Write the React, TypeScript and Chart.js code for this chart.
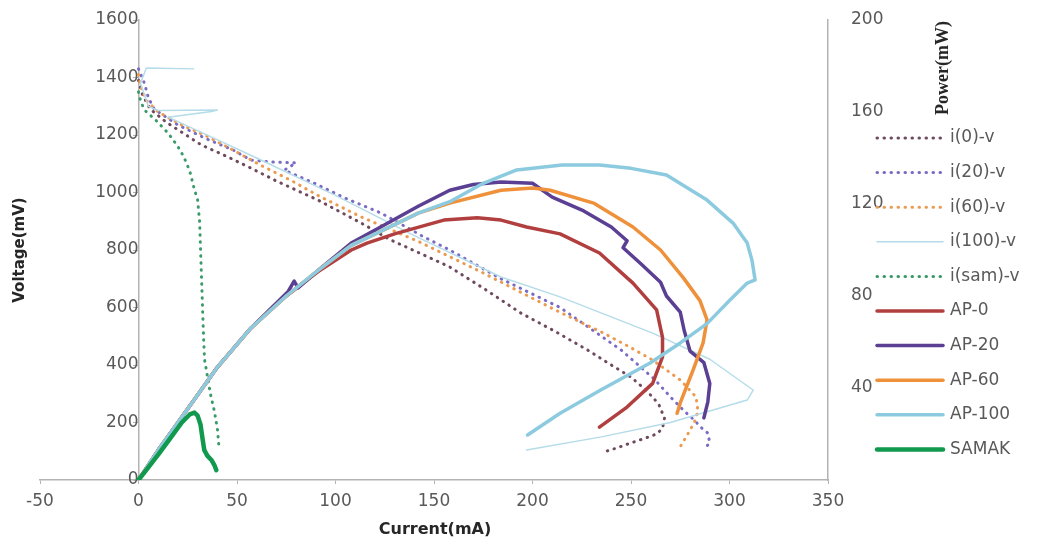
import React, { useEffect, useRef } from "react";
import { Chart, registerables } from "chart.js";

Chart.register(...registerables);

// ---------- axis ranges ----------
const currentMin = -50;
const currentMax = 350;
const currentStep = 50;
const voltageMin = 0;
const voltageMax = 1600;
const voltageStep = 200;
const powerMin = 0;
const powerMax = 200;
const powerStep = 40;

// ---------- i-V curves (current mA, voltage mV) ----------
const i0Current = [0, 2, 6, 14, 23, 32, 45, 57, 70, 91, 113, 128, 145, 158, 176, 194, 212, 228, 240, 250, 258, 264, 267, 266, 263, 257, 250, 243, 236];
const i0Voltage = [1390, 1340, 1290, 1245, 1205, 1165, 1125, 1085, 1040, 974, 894, 835, 782, 741, 663, 581, 515, 452, 400, 358, 310, 265, 215, 180, 160, 145, 129, 112, 97];

const i20Current = [0, 3, 5, 8, 20, 35, 48, 57, 67, 80, 74, 90, 105, 123, 145, 158, 184, 214, 245, 262, 270, 277, 282, 286, 289, 290, 288, 287];
const i20Voltage = [1430, 1380, 1330, 1290, 1235, 1185, 1148, 1113, 1106, 1103, 1078, 1030, 980, 929, 845, 800, 700, 600, 452, 350, 289, 240, 209, 180, 163, 129, 115, 104];

const i60Current = [0, 1, 4, 10, 22, 35, 50, 62, 78, 91, 113, 142, 175, 212, 236, 250, 261, 275, 283, 284, 282, 278, 274];
const i60Voltage = [1410, 1370, 1320, 1280, 1235, 1195, 1140, 1095, 1040, 990, 915, 830, 720, 590, 511, 460, 417, 348, 289, 240, 198, 150, 104];

const i100Current = [28, 4, 1, 5, 10, 40, 38, 15, 30, 60, 100, 140, 184, 214, 261, 290, 312, 309, 270, 235, 197];
const i100Voltage = [1430, 1433, 1380, 1300, 1285, 1287, 1283, 1262, 1215, 1120, 990, 850, 706, 637, 511, 420, 313, 278, 200, 150, 104];

const iSamCurrent = [0, 1, 3, 9, 15, 20, 23, 26, 28, 30, 31, 31.5, 32, 32.5, 33, 33.5, 35, 36.5, 38.5, 40, 41];
const iSamVoltage = [1350, 1320, 1287, 1250, 1207, 1160, 1124, 1075, 1020, 974, 900, 800, 700, 600, 500, 420, 360, 300, 240, 180, 104];

// ---------- power curves (current mA, power mW) ----------
const ap0Current = [0, 10, 25, 40, 57, 75, 91, 108, 116, 130, 155, 172, 184, 197, 214, 234, 251, 263, 266, 266, 261, 248, 234];
const ap0Power = [0, 13, 31, 49, 66, 80, 90.5, 100, 103, 107, 113, 114, 113, 110, 107, 98.7, 85.6, 74, 62, 53.5, 42, 31.7, 23];

const ap20Current = [0, 10, 25, 40, 57, 76, 79, 81, 91, 108, 125, 142, 158, 170, 184, 200, 210, 226, 240, 248, 246, 255, 265, 268, 275, 277, 280, 287, 290, 289, 287];
const ap20Power = [0, 13, 31, 49, 66, 82, 86.5, 83.5, 91, 103, 111, 119, 126, 128.5, 129.6, 129, 123, 117, 110, 104, 101, 94, 86, 80, 73, 65, 56, 51, 42, 34, 27];

const ap60Current = [0, 10, 25, 40, 57, 75, 91, 108, 125, 142, 158, 184, 200, 209, 231, 251, 265, 276.5, 285, 288.6, 286.6, 281.5, 275, 273.4];
const ap60Power = [0, 13, 31, 49, 66, 80, 91, 102, 109, 116, 120.4, 126, 127, 126, 120.4, 110, 100, 88, 78, 69.6, 59.6, 47.8, 33.5, 29];

const ap100Current = [0, 10, 25, 40, 57, 75, 91, 108, 125, 142, 158, 175, 192, 215, 234, 250, 268, 288.6, 301.8, 309, 311.4, 313, 309, 300, 288.6, 275, 259.7, 234.4, 214, 197.5];
const ap100Power = [0, 13, 31, 49, 66, 80, 91, 102, 109, 116, 121, 129, 134.8, 137, 137, 135.5, 132.6, 121.7, 111.7, 103, 95.6, 87, 85.6, 78, 68, 59.6, 50.9, 39, 29, 19.6];

const samakCurrent = [0, 5, 10, 16, 22, 26, 28.4, 30, 31.5, 32.5, 33.4, 35, 37, 38.5, 39.5];
const samakPower = [0, 5.5, 11, 18, 25, 28.5, 29.3, 28, 24, 18, 13, 10.5, 8.7, 6.5, 4.3];

const seriesLabels = ["i(0)-v", "i(20)-v", "i(60)-v", "i(100)-v", "i(sam)-v", "AP-0", "AP-20", "AP-60", "AP-100", "SAMAK"];

const pts = (xs: number[], ys: number[]) => xs.map((x, k) => ({ x, y: ys[k] }));

const TICK_COLOR = "#595959";
const AXIS_COLOR = "#b3b3b3";
const SANS = "'DejaVu Sans', 'Noto Sans', sans-serif";

function dotted(label: string, data: any[], color: string, order: number) {
  return {
    label,
    data,
    yAxisID: "y",
    borderColor: color,
    backgroundColor: color,
    borderWidth: 3,
    borderDash: [0.5, 6.5],
    borderCapStyle: "round",
    showLine: true,
    pointRadius: 0,
    pointHoverRadius: 0,
    tension: 0,
    order,
  };
}

function solid(label: string, data: any[], color: string, width: number, order: number, axis = "y1") {
  return {
    label,
    data,
    yAxisID: axis,
    borderColor: color,
    backgroundColor: color,
    borderWidth: width,
    borderCapStyle: "round",
    borderJoinStyle: "round",
    showLine: true,
    pointRadius: 0,
    pointHoverRadius: 0,
    tension: 0,
    order,
  };
}

const overlayPlugin = {
  id: "overlay",
  afterDraw(chart: any) {
    const ctx = chart.ctx as CanvasRenderingContext2D;
    const dsets = chart.data.datasets;
    ctx.save();
    // legend
    const top = 138;
    const step = 34.6;
    dsets.forEach((d: any, i: number) => {
      const y = top + i * step;
      ctx.beginPath();
      ctx.strokeStyle = d.borderColor;
      ctx.lineWidth = d.borderWidth;
      ctx.lineCap = d.borderCapStyle || "butt";
      ctx.setLineDash(d.borderDash || []);
      ctx.moveTo(877, y);
      ctx.lineTo(943, y);
      ctx.stroke();
      ctx.setLineDash([]);
      ctx.fillStyle = TICK_COLOR;
      ctx.font = `17px ${SANS}`;
      ctx.textAlign = "left";
      ctx.textBaseline = "middle";
      ctx.fillText(d.label, 950, y);
    });
    // axis titles
    ctx.fillStyle = "#262626";
    ctx.textAlign = "center";
    ctx.textBaseline = "middle";
    ctx.font = `bold 16px ${SANS}`;
    ctx.fillText("Current(mA)", 435, 530);
    ctx.save();
    ctx.translate(20, 250);
    ctx.rotate(-Math.PI / 2);
    ctx.font = `bold 15px ${SANS}`;
    ctx.fillText("Voltage(mV)", 0, 0);
    ctx.restore();
    ctx.save();
    ctx.translate(943, 68);
    ctx.rotate(-Math.PI / 2);
    ctx.font = `bold 18px 'Liberation Serif', 'DejaVu Serif', serif`;
    ctx.fillText("Power(mW)", 0, 0);
    ctx.restore();
    ctx.restore();
  },
};

export default function App() {
  const ref = useRef<HTMLCanvasElement>(null);
  useEffect(() => {
    const datasets: any[] = [
      dotted(seriesLabels[0], pts(i0Current, i0Voltage), "#6f4a5e", 9),
      dotted(seriesLabels[1], pts(i20Current, i20Voltage), "#7a6cc4", 8),
      dotted(seriesLabels[2], pts(i60Current, i60Voltage), "#eb9b50", 7),
      solid(seriesLabels[3], pts(i100Current, i100Voltage), "#b5dce9", 1.5, 6, "y"),
      dotted(seriesLabels[4], pts(iSamCurrent, iSamVoltage), "#3a9a68", 5),
      solid(seriesLabels[5], pts(ap0Current, ap0Power), "#b23f3f", 3.5, 4),
      solid(seriesLabels[6], pts(ap20Current, ap20Power), "#5a3f93", 3.5, 3),
      solid(seriesLabels[7], pts(ap60Current, ap60Power), "#ef913a", 3.5, 2),
      solid(seriesLabels[8], pts(ap100Current, ap100Power), "#8ccbdf", 3.5, 1),
      solid(seriesLabels[9], pts(samakCurrent, samakPower), "#11994d", 4.5, 0),
    ];
    const tickFont = { family: SANS, size: 17 };
    const chart = new Chart(ref.current as HTMLCanvasElement, {
      type: "scatter",
      data: { datasets },
      options: {
        animation: false,
        responsive: false,
        maintainAspectRatio: false,
        devicePixelRatio: 1,
        layout: { padding: { left: 40, top: 20, right: 0, bottom: 0 } },
        plugins: { legend: { display: false }, tooltip: { enabled: false } },
        scales: {
          x: {
            type: "linear",
            position: "bottom",
            min: currentMin,
            max: currentMax,
            ticks: { stepSize: currentStep, color: TICK_COLOR, font: tickFont, padding: 7, maxRotation: 0, callback: (v: any) => String(v) },
            grid: { display: true, drawOnChartArea: false, drawTicks: true, tickLength: 4, color: AXIS_COLOR },
            border: { display: true, color: AXIS_COLOR, width: 1.5 },
            afterFit: (s: any) => {
              s.height = 68;
            },
          },
          y: {
            type: "linear",
            position: { x: 0 } as any,
            min: voltageMin,
            max: voltageMax,
            ticks: { stepSize: voltageStep, color: TICK_COLOR, font: tickFont, padding: 17, callback: (v: any) => String(v) },
            grid: { display: true, drawOnChartArea: false, drawTicks: true, tickLength: 5, color: AXIS_COLOR },
            border: { display: true, color: AXIS_COLOR, width: 1.5 },
            afterFit: (s: any) => {
              s.paddingTop = 0;
              s.paddingBottom = 0;
            },
          },
          y1: {
            type: "linear",
            position: "right",
            min: powerMin,
            max: powerMax,
            ticks: {
              stepSize: powerStep,
              color: TICK_COLOR,
              font: tickFont,
              padding: 23,
              callback: (v: any) => (v === 0 ? "" : String(v)),
            },
            grid: { display: true, drawOnChartArea: false, drawTicks: false, tickLength: 0, color: AXIS_COLOR },
            border: { display: true, color: AXIS_COLOR, width: 1.5 },
            afterFit: (s: any) => {
              s.width = 211;
              s.paddingTop = 0;
              s.paddingBottom = 0;
            },
          },
        },
      } as any,
      plugins: [overlayPlugin],
    });
    return () => chart.destroy();
  }, []);
  return (
    <div style={{ position: "fixed", left: 0, top: 0, width: 1039, height: 548, background: "#fff" }}>
      <canvas ref={ref} width={1039} height={548} style={{ display: "block" }} />
    </div>
  );
}
